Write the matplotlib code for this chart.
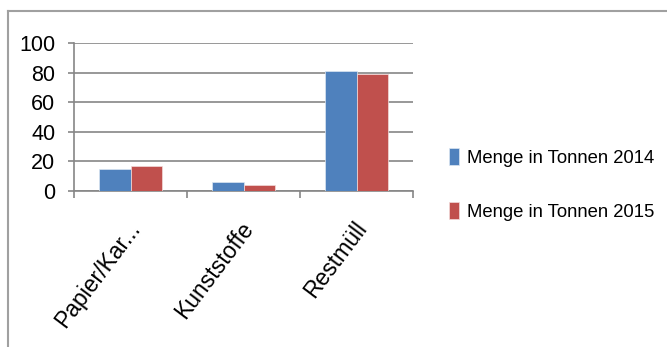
import numpy as np
import matplotlib.pyplot as plt
from matplotlib.lines import Line2D

categories = ['Papier/Kar...', 'Kunststoffe', 'Restmüll']
menge_2014 = [15, 6, 81]
menge_2015 = [16.5, 4, 79.5]
series_names = ['Menge in Tonnen 2014', 'Menge in Tonnen 2015']

plt.rcParams['font.family'] = ['Liberation Sans', 'DejaVu Sans']

fig = plt.figure(figsize=(6.67, 3.47), dpi=100)
ax = fig.add_axes([74 / 667, 1 - 190.7 / 347, (413 - 74) / 667, (190.7 - 43.3) / 347])

x = np.arange(len(categories))
w = 0.283
b1 = ax.bar(x - w / 2, menge_2014, w, color='#4F81BD', edgecolor='#dce6f2', linewidth=0.5,
            label=series_names[0], zorder=3)
b2 = ax.bar(x + w / 2, menge_2015, w, color='#C0504D', edgecolor='#f2dcdb', linewidth=0.5,
            label=series_names[1], zorder=3)

ax.set_xlim(-0.5, 2.5)
ax.set_ylim(0, 100)
ax.set_yticks(range(0, 101, 20))
ax.yaxis.grid(True, color='#868686', linewidth=1.2)
ax.set_axisbelow(True)

for s in ['top', 'right']:
    ax.spines[s].set_visible(False)
for s in ['left', 'bottom']:
    ax.spines[s].set_color('#868686')
    ax.spines[s].set_linewidth(1.2)

ax.tick_params(axis='y', length=4.5, width=1.2, color='#868686', labelsize=15.5, pad=9)
ax.set_xticks(x)
ax.set_xticklabels([])
ax.tick_params(axis='x', which='major', length=0)
ax.set_xticks(np.arange(-0.5, 3, 1), minor=True)
ax.tick_params(axis='x', which='minor', length=5, width=1.2, color='#868686')

# rotated category labels, anchored at their right end below each group
for xi, name in zip(x, categories):
    ax.text(xi + 0.05, -23, name, rotation=53, rotation_mode='anchor', ha='right', va='center',
            fontsize=16.5, transform=ax.transData, clip_on=False)

fig.legend(handles=[b1, b2], loc='center left', bbox_to_anchor=(449 / 667, 1 - 184.5 / 347),
           frameon=False, fontsize=13.3, handlelength=0.55, handleheight=1.0,
           labelspacing=1.9, handletextpad=0.45, borderpad=0, borderaxespad=0)

# outer chart frame (left and top edges)
fig.add_artist(Line2D([8 / 667, 8 / 667], [0, 1 - 11 / 347], color='#a0a0a0', linewidth=1.5))
fig.add_artist(Line2D([8 / 667, 1], [1 - 11 / 347, 1 - 11 / 347], color='#a0a0a0', linewidth=1.5))

fig.savefig('out.png', dpi=100)
